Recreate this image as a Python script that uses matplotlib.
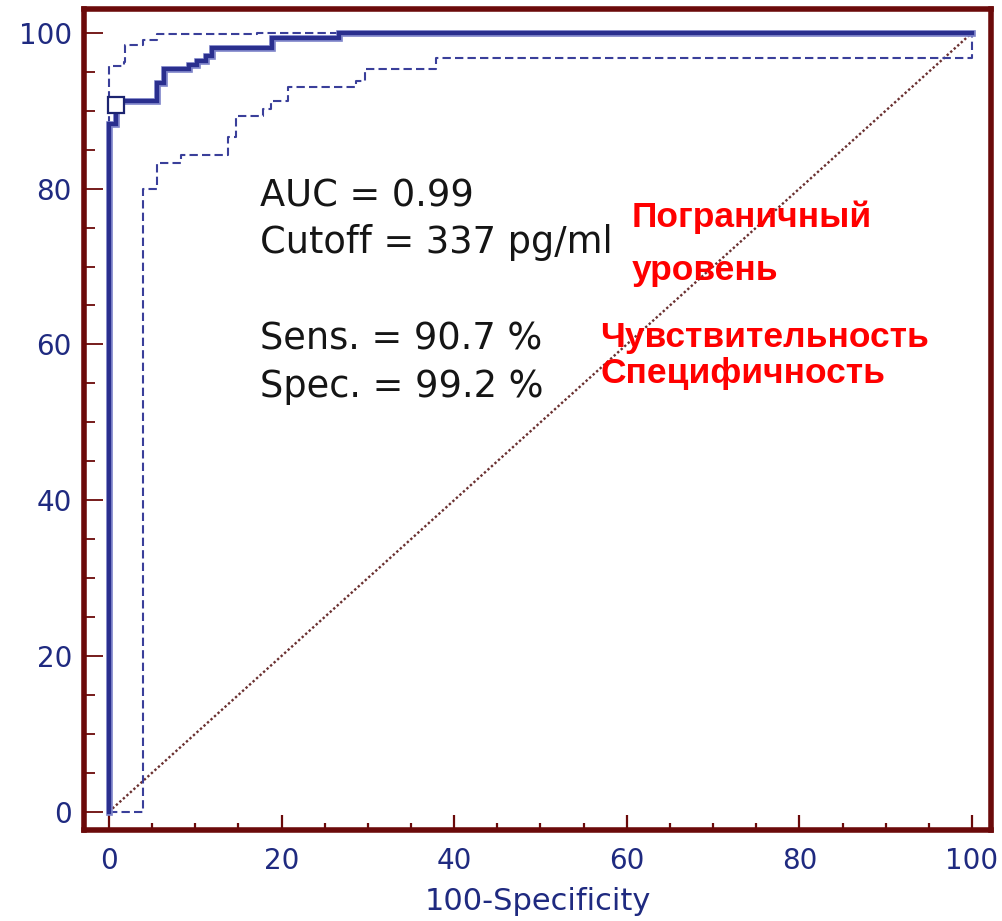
import matplotlib
matplotlib.use("Agg")
import matplotlib.pyplot as plt

# ---- data ----
roc_fpr = [0, 0, 0.8, 5.6, 6.4, 9.3, 10.2, 11.2, 11.9, 18.9, 26.6, 100]
roc_tpr = [0, 88.3, 91.3, 93.5, 95.3, 95.9, 96.4, 97.0, 98.1, 99.3, 100, 100]

upper_fpr = [0, 0, 1.7, 1.9, 3.9, 5.6, 17.2, 100]
upper_tpr = [0, 95.8, 96.3, 98.5, 99.1, 99.8, 100, 100]

lower_fpr = [0, 4.0, 5.6, 8.3, 13.8, 14.7, 17.8, 18.8, 20.7, 28.6, 29.7, 37.9, 100]
lower_tpr = [0, 79.9, 83.3, 84.3, 86.6, 89.3, 90.2, 91.2, 93.0, 93.8, 95.3, 96.8, 100]

diag = [0, 100]
cutoff_fpr = [0.8]
cutoff_tpr = [90.7]

x_ticks = [0, 20, 40, 60, 80, 100]
y_ticks = [0, 20, 40, 60, 80, 100]
x_label = "100-Specificity"

stats_lines = ["AUC = 0.99", "Cutoff = 337 pg/ml", "Sens. = 90.7 %", "Spec. = 99.2 %"]
red_lines = ["Пограничный", "уровень", "Чувствительность", "Специфичность"]

# ---- style ----
spine_col = "#6b0a0a"
navy = "#1f2a80"
fig = plt.figure(figsize=(10.03, 9.21), dpi=100)
ax = fig.add_axes([0.0842, 0.0988, 0.988 - 0.0842, 0.9897 - 0.0988])
ax.set_xlim(-2.84, 102.2)
ax.set_ylim(-2.35, 103.0)

# diagonal
ax.plot(diag, diag, color="#6a3030", lw=1.7, linestyle=(0, (1, 1)), zorder=2)

# confidence bounds
ax.plot(upper_fpr, upper_tpr, drawstyle="steps-post", color="#3a3f9a",
        lw=1.5, linestyle=(0, (4, 2)), zorder=3)
ax.plot(lower_fpr, lower_tpr, drawstyle="steps-post", color="#3a3f9a",
        lw=1.5, linestyle=(0, (4, 2)), zorder=3)

# main ROC curve
ax.plot(roc_fpr, roc_tpr, drawstyle="steps-post", color="#7e84c9",
        lw=4.8, zorder=4, solid_joinstyle="miter")
ax.plot(roc_fpr, roc_tpr, drawstyle="steps-post", color="#2a2f8e",
        lw=3.0, zorder=5, solid_joinstyle="miter")

# cutoff marker
ax.plot(cutoff_fpr, cutoff_tpr, marker="s", ms=11, mfc="white",
        mec="#1c2470", mew=1.6, ls="none", zorder=6)

# spines
for s in ax.spines.values():
    s.set_color(spine_col)
    s.set_linewidth(4.0)

ax.set_xticks(x_ticks)
ax.set_yticks(y_ticks)
ax.set_xticks(range(0, 101, 5), minor=True)
ax.set_yticks(range(0, 101, 5), minor=True)
ax.tick_params(axis="both", which="both", direction="in", color=spine_col)
ax.tick_params(axis="y", which="major", length=14, width=1.3, pad=9)
ax.tick_params(axis="y", which="minor", length=8, width=1.3)
ax.tick_params(axis="x", which="major", length=11, width=1.6, pad=12)
ax.tick_params(axis="x", which="minor", length=5, width=1.6)
ax.tick_params(axis="both", which="major", labelsize=20, labelcolor=navy)
for lab in ax.get_xticklabels() + ax.get_yticklabels():
    lab.set_fontfamily("DejaVu Sans")

ax.set_xlabel(x_label, fontsize=22, color=navy, family="DejaVu Sans", labelpad=9)

# annotation text (black)
stat_y = [77.7, 71.7, 59.3, 53.3]
for txt, yy in zip(stats_lines, stat_y):
    ax.text(17.5, yy, txt, fontsize=26.5, color="#151515", family="DejaVu Sans",
            va="baseline", ha="left", zorder=7)

# red labels
red_x = [60.6, 60.6, 56.9, 56.9]
red_y = [75.1, 68.3, 59.7, 55.0]
for txt, xx, yy in zip(red_lines, red_x, red_y):
    ax.text(xx, yy, txt, fontsize=25.5, color="#ff0000", fontweight="bold",
            family="Liberation Sans", va="baseline", ha="left", zorder=7)

fig.savefig("out.png", dpi=100, facecolor="white")
